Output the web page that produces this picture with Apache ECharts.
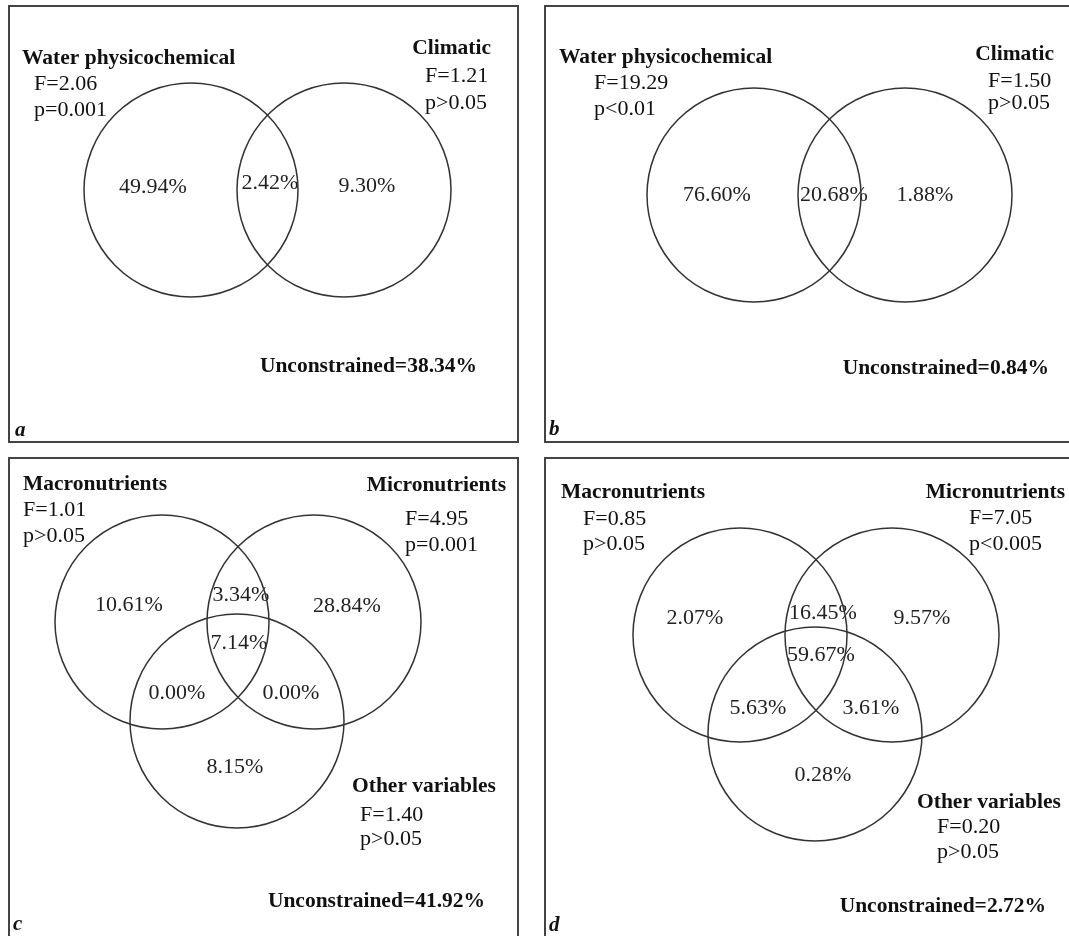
<!DOCTYPE html>
<html>
<head>
<meta charset="utf-8">
<script src="https://cdn.jsdelivr.net/npm/echarts@6/dist/echarts.min.js"></script>
<style>
  html, body { margin: 0; padding: 0; background: #ffffff; }
  #chart { width: 1069px; height: 936px; }
</style>
</head>
<body>
<div id="chart"></div>
<script>
// ---- Variance partitioning results (% of explained variation) ----
const panelLetters = ['a', 'b', 'c', 'd'];

// Panels a and b: two groups of explanatory variables
const groupsAB = ['Water physicochemical', 'Climatic'];
// order of parts: first only, shared, second only
const fValuesA = [2.06, 1.21];
const pValuesA = ['p=0.001', 'p>0.05'];
const partsA = [49.94, 2.42, 9.30];
const unconstrainedA = 38.34;

const fValuesB = [19.29, 1.50];
const pValuesB = ['p<0.01', 'p>0.05'];
const partsB = [76.60, 20.68, 1.88];
const unconstrainedB = 0.84;

// Panels c and d: three groups of explanatory variables
const groupsCD = ['Macronutrients', 'Micronutrients', 'Other variables'];
// order of parts: macro only, macro+micro, micro only, all three,
//                 macro+other, micro+other, other only
const fValuesC = [1.01, 4.95, 1.40];
const pValuesC = ['p>0.05', 'p=0.001', 'p>0.05'];
const partsC = [10.61, 3.34, 28.84, 7.14, 0.00, 0.00, 8.15];
const unconstrainedC = 41.92;

const fValuesD = [0.85, 7.05, 0.20];
const pValuesD = ['p>0.05', 'p<0.005', 'p>0.05'];
const partsD = [2.07, 16.45, 9.57, 59.67, 5.63, 3.61, 0.28];
const unconstrainedD = 2.72;

// ---- Panel layout (pixels, relative to each panel frame's top-left) ----
const RADIUS = 107;
const panelLayout = [
  { origin: [9, 6], frame: [509, 436],
    circles: [[182, 184], [335, 184]],
    parts: [[144, 181], [261, 177], [358, 180]],
    names: [[13, 52, 'left'], [482, 42, 'right']],
    fPos: [[25, 78], [416, 70]], pPos: [[25, 104], [416, 97]],
    unconstrained: [468, 360], letter: [6, 425] },
  { origin: [545, 6], frame: [600, 436],
    circles: [[209, 189], [360, 189]],
    parts: [[172, 189], [289, 189], [380, 189]],
    names: [[14, 51, 'left'], [509, 48, 'right']],
    fPos: [[49, 77], [443, 75]], pPos: [[49, 103], [443, 97]],
    unconstrained: [504, 362], letter: [4, 424] },
  { origin: [9, 458], frame: [509, 520],
    circles: [[153, 164], [305, 164], [228, 263]],
    parts: [[120, 147], [232, 137], [338, 148], [230, 185], [168, 235], [282, 235], [226, 309]],
    names: [[14, 26, 'left'], [497, 27, 'right'], [343, 328, 'left']],
    fPos: [[14, 52], [396, 61], [351, 357]], pPos: [[14, 78], [396, 87], [351, 381]],
    unconstrained: [476, 443], letter: [4, 467] },
  { origin: [545, 458], frame: [600, 520],
    circles: [[195, 177], [347, 177], [270, 276]],
    parts: [[150, 160], [278, 155], [377, 160], [276, 197], [213, 250], [326, 250], [278, 317]],
    names: [[16, 34, 'left'], [520, 34, 'right'], [372, 344, 'left']],
    fPos: [[38, 61], [424, 60], [392, 369]], pPos: [[38, 86], [424, 86], [392, 394]],
    unconstrained: [501, 448], letter: [4, 468] }
];

const panelData = [
  { groups: groupsAB, f: fValuesA, p: pValuesA, parts: partsA, unc: unconstrainedA },
  { groups: groupsAB, f: fValuesB, p: pValuesB, parts: partsB, unc: unconstrainedB },
  { groups: groupsCD, f: fValuesC, p: pValuesC, parts: partsC, unc: unconstrainedC },
  { groups: groupsCD, f: fValuesD, p: pValuesD, parts: partsD, unc: unconstrainedD }
];

const SERIF = "'Liberation Serif', 'Times New Roman', serif";
const INK = '#111111';

const at = (lay, rel) => [lay.origin[0] + rel[0], lay.origin[1] + rel[1]];

const circleData = [];
const partData = [];
const textData = [];
const frames = [];

function textItem(pos, text, align, bold, size, italic) {
  return {
    value: pos,
    label: {
      formatter: text,
      align: align,
      fontWeight: bold ? 'bold' : 'normal',
      fontStyle: italic ? 'italic' : 'normal',
      fontSize: size
    }
  };
}

panelData.forEach((d, i) => {
  const lay = panelLayout[i];
  frames.push({
    type: 'rect',
    shape: { x: lay.origin[0], y: lay.origin[1], width: lay.frame[0], height: lay.frame[1] },
    style: { fill: 'none', stroke: '#444444', lineWidth: 2 },
    silent: true
  });
  lay.circles.forEach(c => circleData.push(at(lay, c)));
  d.parts.forEach((v, k) => {
    const pos = at(lay, lay.parts[k]);
    partData.push([pos[0], pos[1], v]);
  });
  d.groups.forEach((g, k) => {
    const n = lay.names[k];
    textData.push(textItem(at(lay, [n[0], n[1]]), g, n[2], true, 21.5));
    textData.push(textItem(at(lay, lay.fPos[k]), 'F=' + d.f[k].toFixed(2), 'left', false, 22));
    textData.push(textItem(at(lay, lay.pPos[k]), d.p[k], 'left', false, 22));
  });
  textData.push(textItem(at(lay, lay.unconstrained),
    'Unconstrained=' + d.unc.toFixed(2) + '%', 'right', true, 21.5));
  textData.push(textItem(at(lay, lay.letter), panelLetters[i], 'left', true, 21, true));
});

const chart = echarts.init(document.getElementById('chart'), null, { renderer: 'canvas' });
chart.setOption({
  animation: false,
  backgroundColor: '#ffffff',
  grid: { left: 0, top: 0, right: 0, bottom: 0 },
  xAxis: { type: 'value', min: 0, max: 1069, show: false },
  yAxis: { type: 'value', min: 0, max: 936, inverse: true, show: false },
  graphic: frames,
  series: [
    {
      name: 'sets',
      type: 'scatter',
      silent: true,
      symbol: 'circle',
      symbolSize: RADIUS * 2,
      itemStyle: { color: 'rgba(0,0,0,0)', borderColor: '#333333', borderWidth: 1.5, opacity: 1 },
      data: circleData,
      z: 3
    },
    {
      name: 'fractions',
      type: 'scatter',
      silent: true,
      symbolSize: 1,
      itemStyle: { color: 'rgba(0,0,0,0)', opacity: 1 },
      label: {
        show: true,
        position: 'inside',
        align: 'center',
        verticalAlign: 'middle',
        fontFamily: SERIF,
        fontSize: 22,
        color: '#222222',
        formatter: p => p.value[2].toFixed(2) + '%'
      },
      data: partData,
      z: 2
    },
    {
      name: 'annotations',
      type: 'scatter',
      silent: true,
      symbolSize: 1,
      itemStyle: { color: 'rgba(0,0,0,0)', opacity: 1 },
      label: {
        show: true,
        position: 'inside',
        verticalAlign: 'middle',
        fontFamily: SERIF,
        color: INK
      },
      data: textData,
      z: 2
    }
  ]
});
</script>
</body>
</html>
